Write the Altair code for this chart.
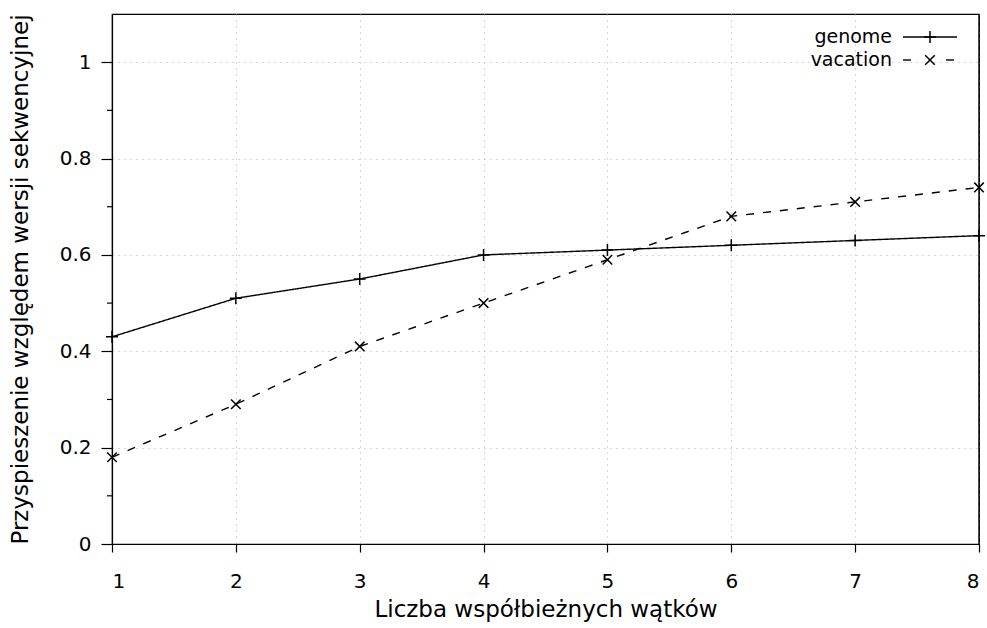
import altair as alt
import pandas as pd

threads = [1, 2, 3, 4, 5, 6, 7, 8]
genome = [0.43, 0.51, 0.55, 0.60, 0.61, 0.62, 0.63, 0.64]
vacation = [0.18, 0.29, 0.41, 0.50, 0.59, 0.68, 0.71, 0.74]
series_names = ["genome", "vacation"]
y_ticks = [0, 0.2, 0.4, 0.6, 0.8, 1.0]
y_minor = [0.1, 0.3, 0.5, 0.7, 0.9]
x_ticks = [1, 2, 3, 4, 5, 6, 7, 8]

FONT = "DejaVu Sans"
W, H = 867, 530
PLUS = "M-1,0L1,0M0,-1L0,1"
CROSS = "M-0.8,-0.8L0.8,0.8M-0.8,0.8L0.8,-0.8"
shapes = {"genome": PLUS, "vacation": CROSS}
dashes = {"genome": [1, 0], "vacation": [8, 9]}

df = pd.DataFrame({
    "threads": threads * 2,
    "value": genome + vacation,
    "series": ["genome"] * len(threads) + ["vacation"] * len(threads),
})

xscale = alt.Scale(domain=[1, 8], nice=False, zero=False)
yscale = alt.Scale(domain=[0, 1.1], nice=False)

xenc = alt.X("threads:Q", scale=xscale,
             axis=alt.Axis(values=x_ticks, title="Liczba współbieżnych wątków",
                           grid=True, gridDash=[1, 5], gridColor="#b0b0b0",
                           tickSize=8, labelPadding=19, titlePadding=7,
                           format="d"))
yenc = alt.Y("value:Q", scale=yscale,
             axis=alt.Axis(values=y_ticks, title="Przyspieszenie względem wersji sekwencyjnej",
                           grid=True, gridDash=[1, 5], gridColor="#b0b0b0",
                           tickSize=11, labelPadding=10, titlePadding=27,
                           format="~g"))

layers = []
for s in series_names:
    d = df[df.series == s]
    line = alt.Chart(d).mark_line(color="black", strokeWidth=1.4,
                                  strokeDash=dashes[s]).encode(x=xenc, y=yenc)
    pts = alt.Chart(d).mark_point(shape=shapes[s], size=144, color="black",
                                  filled=False, strokeWidth=1.5, opacity=1).encode(
        x="threads:Q", y="value:Q")
    layers += [line, pts]

minor = alt.Chart(pd.DataFrame({"v": y_minor})).mark_rule(color="black", strokeWidth=1.2).encode(
    y=alt.Y("v:Q", scale=yscale), x=alt.value(-5), x2=alt.value(0))
layers.append(minor)

# right frame drawn over the grid line at x=8
frame = alt.Chart(pd.DataFrame({"v": [8]})).mark_rule(color="black", strokeWidth=1.2).encode(
    x=alt.X("v:Q", scale=xscale), y=alt.value(0), y2=alt.value(H))
layers.append(frame)

# legend (gnuplot style: label left of sample)
for i, s in enumerate(series_names):
    ly = 23 + 23 * i
    ld = pd.DataFrame({"name": [s]})
    txt = alt.Chart(ld).mark_text(align="right", baseline="middle", font=FONT,
                                  fontSize=19, color="black").encode(
        text="name:N", x=alt.value(780), y=alt.value(ly))
    if s == "genome":
        samp = alt.Chart(ld).mark_rule(color="black", strokeWidth=1.4).encode(
            x=alt.value(791), x2=alt.value(845), y=alt.value(ly))
        layers += [txt, samp]
    else:
        s1 = alt.Chart(ld).mark_rule(color="black", strokeWidth=1.4).encode(
            x=alt.value(791), x2=alt.value(799), y=alt.value(ly))
        s2 = alt.Chart(ld).mark_rule(color="black", strokeWidth=1.4).encode(
            x=alt.value(834), x2=alt.value(842), y=alt.value(ly))
        layers += [txt, s1, s2]
    mk = alt.Chart(ld).mark_point(shape=shapes[s], size=144, color="black", filled=False,
                                  strokeWidth=1.5, opacity=1).encode(
        x=alt.value(818), y=alt.value(ly))
    layers.append(mk)

chart = alt.layer(*layers).properties(
    width=W, height=H,
    autosize=alt.AutoSizeParams(type="none"),
    padding={"left": 112, "top": 14, "right": 8, "bottom": 84},
    background="white",
).configure_view(stroke="black", strokeWidth=1.2).configure_axis(
    labelFont=FONT, titleFont=FONT, labelFontSize=20, titleFontSize=23,
    titleFontWeight="normal", labelColor="black", titleColor="black",
    domainColor="black", tickColor="black", domainWidth=1.2, tickWidth=1.2,
)

chart.save("out.html", embed_options={"renderer": "svg", "actions": False})
